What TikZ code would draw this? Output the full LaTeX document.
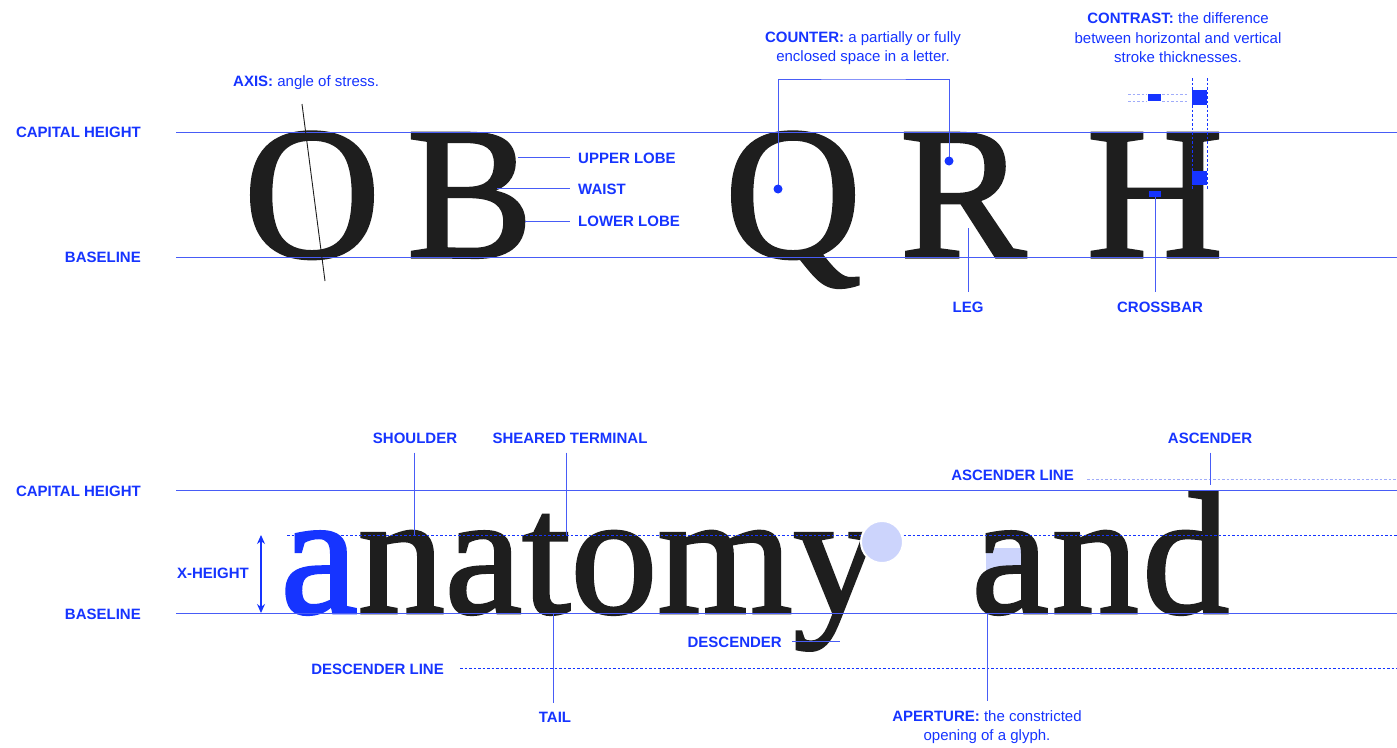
\documentclass[tikz,border=0pt]{standalone}
\usepackage{fontspec}
\setmainfont{Liberation Serif}
\newfontfamily\lblfont{Liberation Sans}
\newfontfamily\glyphfont[FakeBold=1.6]{Liberation Serif}
\usetikzlibrary{arrows.meta}
\definecolor{lblblue}{RGB}{22,52,255}
\definecolor{lineblue}{RGB}{72,92,246}
\definecolor{paleblue}{RGB}{160,172,250}
\definecolor{fillblue}{RGB}{204,212,252}
\definecolor{ink}{RGB}{30,30,30}
\tikzset{
 lbl/.style={font=\lblfont\fontsize{15}{18}\selectfont\bfseries, text=lblblue, inner sep=0pt},
 desc/.style={font=\lblfont\fontsize{15}{19.5}\selectfont, text=lblblue, align=center, inner sep=0pt},
 guide/.style={draw=lineblue, line width=1pt},
 leader/.style={draw=lineblue, line width=1pt},
 dots/.style={draw=lblblue, line width=1pt, dash pattern=on 2.5pt off 2pt},
 palet/.style={draw=paleblue, line width=1pt, dash pattern=on 2.5pt off 2pt},
 bigglyph/.style={font=\glyphfont\fontsize{189}{189}\selectfont, text=ink, inner sep=0pt, anchor=base},
 smallglyph/.style={font=\glyphfont\fontsize{174}{174}\selectfont, text=ink, inner sep=0pt, anchor=base west},
}
\begin{document}
\begin{tikzpicture}[x=1pt,y=-1pt]
\useasboundingbox[fill=white] (0,0) rectangle (1397,747);

% ---------- top section ----------
\node[lbl, anchor=east] (capT) at (141,132) {CAPITAL HEIGHT};
\node[lbl, anchor=east] (baseT) at (141,257) {BASELINE};
\coordinate (capTl) at (176,132); \coordinate (capTr) at (1397,132);
\coordinate (baseTl) at (176,257); \coordinate (baseTr) at (1397,257);

\node[bigglyph] (O) at (312,257) {O};
\node[bigglyph] (B) at (470,257) {B};
\node[bigglyph] (Q) at (793,257) {Q};
\node[bigglyph] (R) at (963,257) {R};
\node[bigglyph] (H) at (1155,257) {H};

\draw[guide] (capTl) -- (capTr);
\draw[guide] (baseTl) -- (baseTr);

% axis
\node[desc, anchor=west] (axis) at (233,83) {{\bfseries AXIS:} angle of stress.};
\coordinate (axT) at (302,104); \coordinate (axB) at (325,281);
\draw[ink, line width=0.9pt] (axT) -- (axB);

% B parts
\node[lbl, anchor=west] (upper) at (578,158) {UPPER LOBE};
\node[lbl, anchor=west] (waist) at (578,189) {WAIST};
\node[lbl, anchor=west] (lower) at (578,221) {LOWER LOBE};
\coordinate (bU) at (518,157); \coordinate (bW) at (497,188); \coordinate (bL) at (525,221);
\draw[leader] (bU) -- ([xshift=-8pt]bU -| upper.west);
\draw[leader] (bW) -- ([xshift=-8pt]bW -| waist.west);
\draw[leader] (bL) -- ([xshift=-8pt]bL -| lower.west);

% counter
\node[desc] (counter) at (863,48) {{\bfseries COUNTER:} a partially or fully\\enclosed space in a letter.};
\coordinate (cQ) at (778,189); \coordinate (cR) at (949,161); \coordinate (cbar) at (863,79);
\draw[leader] (cQ) |- (cbar) -| (cR);
\fill[lblblue] (cQ) circle (4.5pt) (cR) circle (4.5pt);

% leg
\node[lbl] (leg) at (968,307) {LEG};
\coordinate (legP) at (968,228);
\draw[leader] (legP) -- ([yshift=9pt]leg.north);

% crossbar
\node[lbl] (crossbar) at (1160,307) {CROSSBAR};
\coordinate (xbar) at (1155,197);
\draw[leader] (xbar) -- ([yshift=9pt]crossbar.north -| xbar);
\fill[lblblue] (1149,191) rectangle (1161,197);

% contrast
\node[desc] (contrast) at (1178,38) {{\bfseries CONTRAST:} the difference\\between horizontal and vertical\\stroke thicknesses.};
\coordinate (stL) at (1192,78); \coordinate (stR) at (1207,78);
\draw[dots] (stL) -- (1192,190);
\draw[dots] (stR) -- (1207,190);
\fill[lblblue] (1192,90) rectangle (1207,105);
\fill[lblblue] (1192,171) rectangle (1207,185);
\fill[lblblue] (1148,94) rectangle (1161,101);
\draw[palet] (1128,94) -- (1147,94) (1162,94) -- (1188,94);
\draw[palet] (1128,101) -- (1147,101) (1162,101) -- (1188,101);

% ---------- bottom section ----------
\node[lbl, anchor=east] (capB) at (141,491) {CAPITAL HEIGHT};
\node[lbl, anchor=east] (baseB) at (141,614) {BASELINE};
\node[lbl, anchor=east] (xh) at (249,573) {X-HEIGHT};
\coordinate (capBl) at (176,490); \coordinate (capBr) at (1397,490);
\coordinate (baseBl) at (176,613); \coordinate (baseBr) at (1397,613);

% aperture fill (behind glyphs)
\fill[fillblue] (986,548) rectangle (1028,574);

\node[smallglyph] (anatom) at (280.4,613) {{\color{lblblue}a}natom};
\node[smallglyph] (yy) at (anatom.base east) {y};
\node[smallglyph] (an) at (971.4,613) {a\kern3pt n\kern3pt};
\node[smallglyph] (dd) at (an.base east) {d};

\coordinate (xl) at (287,535); \coordinate (xr) at (1397,535);
\draw[dots] (xl) -- (xr);
\filldraw[fill=fillblue, draw=white, line width=2pt] (882,542) circle (21pt);

\draw[guide] (capBl) -- (capBr);
\draw[guide] (baseBl) -- (baseBr);

\coordinate (xhT) at (261,535); \coordinate (xhB) at (261,613);
\draw[lblblue, line width=1.2pt, {Stealth[length=9pt,width=8pt]}-{Stealth[length=9pt,width=8pt]}] (xhT) -- (xhB);

\node[lbl] (shoulder) at (415,438) {SHOULDER};
\node[lbl] (sheared) at (570,438) {SHEARED TERMINAL};
\coordinate (shP) at (414,535); \coordinate (stP) at (566,535);
\draw[leader] ([yshift=-9pt]shoulder.south -| shP) -- (shP);
\draw[leader] ([yshift=-9pt]sheared.south -| stP) -- (stP);

\node[lbl] (tail) at (555,717) {TAIL};
\coordinate (tailP) at (553,613);
\draw[leader] (tailP) -- ([yshift=9pt]tail.north -| tailP);

\node[lbl, anchor=east] (desc) at (782,642) {DESCENDER};
\coordinate (descP) at (840,641);
\draw[leader] ([xshift=10pt]desc.east |- descP) -- (descP);

\node[lbl, anchor=east] (dline) at (444,669) {DESCENDER LINE};
\coordinate (dl) at (460,668); \coordinate (dr) at (1397,668);
\draw[dots] (dl) -- (dr);

\node[lbl, anchor=east] (aline) at (1074,475) {ASCENDER LINE};
\coordinate (al) at (1087,479); \coordinate (ar) at (1397,479);
\draw[palet] (al) -- (ar);

\node[lbl] (asc) at (1210,438) {ASCENDER};
\coordinate (ascP) at (1210,485);
\draw[leader] ([yshift=-9pt]asc.south) -- (ascP);

\node[desc] (aperture) at (987,727) {{\bfseries APERTURE:} the constricted\\opening of a glyph.};
\coordinate (apP) at (987,613);
\draw[leader] (apP) -- ([yshift=9pt]aperture.north -| apP);
\end{tikzpicture}
\end{document}
